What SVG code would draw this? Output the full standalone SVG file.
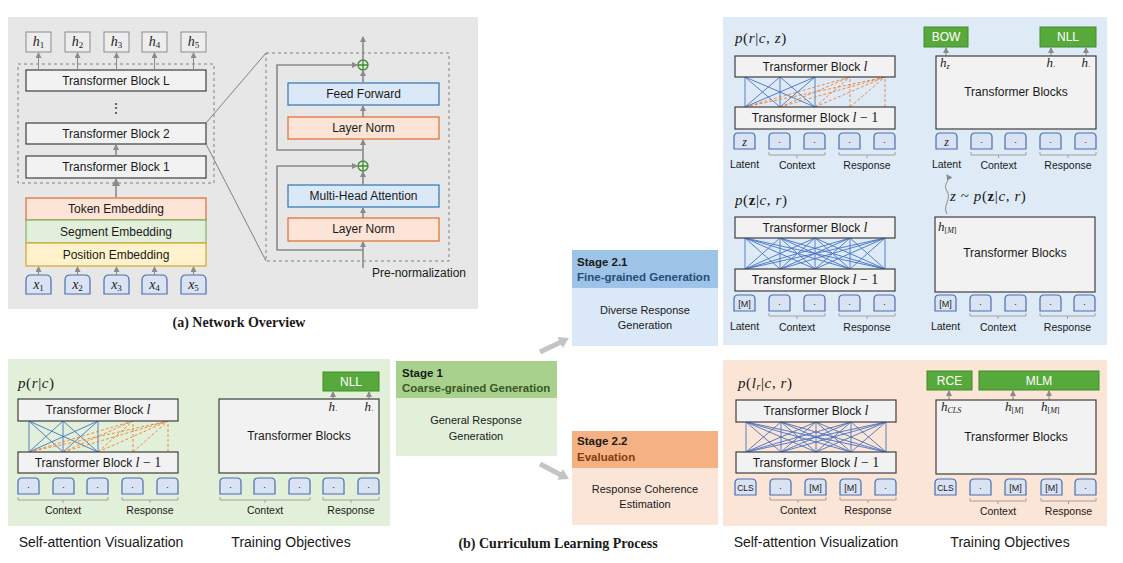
<svg xmlns="http://www.w3.org/2000/svg" width="1123" height="563" viewBox="0 0 1123 563">
<defs>
<style>
text{font-family:"Liberation Sans",Arial,sans-serif;fill:#1a1a1a}
.s12{font-size:12px}
.s11{font-size:11px}
.s10{font-size:10.5px}
.s14{font-size:14px}
.m{font-family:"Liberation Serif","Times New Roman",serif;font-style:italic}
.mr{font-family:"Liberation Serif","Times New Roman",serif;font-style:normal}
.pm{font-family:"Liberation Serif","Times New Roman",serif;font-style:italic;font-size:15px;letter-spacing:0.6px}
.cap{font-family:"Liberation Serif","Times New Roman",serif;font-weight:bold;font-size:14px}
.tb{fill:#F2F2F2;stroke:#3F3F3F;stroke-width:1.2}
.hb{fill:#EDEDED;stroke:#8C8C8C;stroke-width:1}
.tok{fill:#DAE3F3;stroke:#4A6FB0;stroke-width:1.2}
.obj{fill:#58A93C;stroke:#3F8B2A;stroke-width:1}
.objt{fill:#fff;font-size:12px}
.ar{stroke:#8A8A8A;stroke-width:1;fill:none}
.ar2{stroke:#8A8A8A;stroke-width:1.6;fill:none}
.br{stroke:#A0A0A0;stroke-width:1;fill:none}
.blue{stroke:#4472C4;stroke-width:0.9;fill:none}
.org{stroke:#ED7D31;stroke-width:0.9;fill:none;stroke-dasharray:3,2}
.dash{fill:none;stroke:#808080;stroke-width:1;stroke-dasharray:3,3}
.blk{fill:#DAE8F8;stroke:#2E75B6;stroke-width:1.2}
.ln{fill:#FCE4D6;stroke:#E06C2C;stroke-width:1.2}
.plus{fill:none;stroke:#3C8C2C;stroke-width:1.3}
.dot{font-size:9px}
</style>
<marker id="ah" markerWidth="6" markerHeight="6" refX="5" refY="3" orient="auto" markerUnits="userSpaceOnUse">
<path d="M0,0 L6,3 L0,6 z" fill="#8A8A8A"/>
</marker>
<marker id="ah2" markerWidth="8" markerHeight="8" refX="7" refY="4" orient="auto" markerUnits="userSpaceOnUse">
<path d="M0,0 L8,4 L0,8 z" fill="#8A8A8A"/>
</marker>
<path id="tk" d="M0,16 V4 Q0,0 4,0 H17 Q21,0 21,4 V16 Z"/>
<path id="tkx" d="M0,19 V5 Q0,0 5,0 H20 Q25,0 25,5 V19 Z"/>
</defs>

<!-- backgrounds -->
<rect x="8" y="17" width="470" height="292" fill="#E7E7E7"/>
<rect x="8" y="359" width="382" height="167" fill="#E2F0D9"/>
<rect x="723" y="17" width="384" height="328" fill="#DEEBF7"/>
<rect x="723" y="360" width="384" height="166" fill="#FBE5D6"/>

<!-- (a) Network overview -->
<g id="outputs">
<rect class="hb" x="26" y="32" width="25" height="20"/>
<rect class="hb" x="65" y="32" width="25" height="20"/>
<rect class="hb" x="104" y="32" width="25" height="20"/>
<rect class="hb" x="142" y="32" width="25" height="20"/>
<rect class="hb" x="181" y="32" width="25" height="20"/>
<text class="m" font-size="14" x="38.5" y="46" text-anchor="middle">h<tspan font-size="9" dy="2" class="mr">1</tspan></text>
<text class="m" font-size="14" x="77.5" y="46" text-anchor="middle">h<tspan font-size="9" dy="2" class="mr">2</tspan></text>
<text class="m" font-size="14" x="116.5" y="46" text-anchor="middle">h<tspan font-size="9" dy="2" class="mr">3</tspan></text>
<text class="m" font-size="14" x="154.5" y="46" text-anchor="middle">h<tspan font-size="9" dy="2" class="mr">4</tspan></text>
<text class="m" font-size="14" x="193.5" y="46" text-anchor="middle">h<tspan font-size="9" dy="2" class="mr">5</tspan></text>
</g>
<g id="stack">
<rect class="dash" x="18" y="64" width="196" height="119"/>
<rect class="tb" x="26" y="70" width="180" height="21"/>
<text class="s12" x="116" y="85" text-anchor="middle">Transformer Block L</text>
<text class="s12" x="116" y="112" text-anchor="middle">⋮</text>
<rect class="tb" x="26" y="123" width="180" height="21"/>
<text class="s12" x="116" y="138" text-anchor="middle">Transformer Block 2</text>
<rect class="tb" x="26" y="156" width="180" height="22"/>
<text class="s12" x="116" y="171" text-anchor="middle">Transformer Block 1</text>
</g>
<g id="embeddings">
<rect x="26" y="198" width="180" height="22" fill="#FCE4D6" stroke="#E06C2C" stroke-width="1.2"/>
<text class="s12" x="116" y="213" text-anchor="middle">Token Embedding</text>
<rect x="26" y="220" width="180" height="23" fill="#E2EFDA" stroke="#82B366" stroke-width="1.2"/>
<text class="s12" x="116" y="236" text-anchor="middle">Segment Embedding</text>
<rect x="26" y="243" width="180" height="23" fill="#FFF2CC" stroke="#D6A42E" stroke-width="1.2"/>
<text class="s12" x="116" y="259" text-anchor="middle">Position Embedding</text>
</g>
<g id="inputs">
<use href="#tkx" class="tok" x="26" y="275"/>
<use href="#tkx" class="tok" x="65" y="275"/>
<use href="#tkx" class="tok" x="104" y="275"/>
<use href="#tkx" class="tok" x="142" y="275"/>
<use href="#tkx" class="tok" x="181" y="275"/>
<text class="m" font-size="14" x="38.5" y="289" text-anchor="middle">x<tspan font-size="9" dy="2" class="mr">1</tspan></text>
<text class="m" font-size="14" x="77.5" y="289" text-anchor="middle">x<tspan font-size="9" dy="2" class="mr">2</tspan></text>
<text class="m" font-size="14" x="116.5" y="289" text-anchor="middle">x<tspan font-size="9" dy="2" class="mr">3</tspan></text>
<text class="m" font-size="14" x="154.5" y="289" text-anchor="middle">x<tspan font-size="9" dy="2" class="mr">4</tspan></text>
<text class="m" font-size="14" x="193.5" y="289" text-anchor="middle">x<tspan font-size="9" dy="2" class="mr">5</tspan></text>
</g>
<g id="block-detail">
<rect class="dash" x="266" y="53" width="183" height="208"/>
<rect class="blk" x="288" y="83" width="151" height="22"/>
<text class="s12" x="363.5" y="98" text-anchor="middle">Feed Forward</text>
<rect class="ln" x="288" y="117" width="151" height="22"/>
<text class="s12" x="363.5" y="132" text-anchor="middle">Layer Norm</text>
<rect class="blk" x="288" y="185" width="151" height="22"/>
<text class="s12" x="363.5" y="200" text-anchor="middle">Multi-Head Attention</text>
<rect class="ln" x="288" y="218" width="151" height="23"/>
<text class="s12" x="363.5" y="233" text-anchor="middle">Layer Norm</text>
<circle class="plus" cx="363" cy="65" r="5"/>
<path class="plus" d="M358,65 H368 M363,60 V70"/>
<circle class="plus" cx="363" cy="166" r="5"/>
<path class="plus" d="M358,166 H368 M363,161 V171"/>
<text class="s12" x="372" y="277">Pre-normalization</text>
</g>
<g id="connectors">
<path class="ar" marker-end="url(#ah)" d="M38.5,70 V53"/>
<path class="ar" marker-end="url(#ah)" d="M77.5,70 V53"/>
<path class="ar" marker-end="url(#ah)" d="M116.5,70 V53"/>
<path class="ar" marker-end="url(#ah)" d="M154.5,70 V53"/>
<path class="ar" marker-end="url(#ah)" d="M193.5,70 V53"/>
<path class="ar2" marker-end="url(#ah)" d="M116,156 V145"/>
<path class="ar2" marker-end="url(#ah2)" d="M116,197 V179"/>
<path class="ar" marker-end="url(#ah)" d="M38.5,275 V267"/>
<path class="ar" marker-end="url(#ah)" d="M77.5,275 V267"/>
<path class="ar" marker-end="url(#ah)" d="M116.5,275 V267"/>
<path class="ar" marker-end="url(#ah)" d="M154.5,275 V267"/>
<path class="ar" marker-end="url(#ah)" d="M193.5,275 V267"/>
<path d="M206,123 L266,53 M206,144 L266,261" stroke="#808080" stroke-width="1" fill="none"/>
<path class="ar2" marker-end="url(#ah)" d="M363,268 V242"/>
<path class="ar2" marker-end="url(#ah)" d="M363,218 V208"/>
<path class="ar2" marker-end="url(#ah)" d="M363,185 V172"/>
<path class="ar2" marker-end="url(#ah)" d="M363,161 V140"/>
<path class="ar2" marker-end="url(#ah)" d="M363,117 V106"/>
<path class="ar2" marker-end="url(#ah)" d="M363,83 V71"/>
<path class="ar2" marker-end="url(#ah)" d="M363,60 V37"/>
<path class="ar2" marker-end="url(#ah)" d="M363,250 H277 V166 H357"/>
<path class="ar2" marker-end="url(#ah)" d="M363,150 H277 V65 H357"/>
<path d="M540,352 L561,342" stroke="#C4C4C4" stroke-width="5" fill="none"/>
<polygon points="569,338 562.8,347.9 557.4,337.1" fill="#C4C4C4"/>
<path d="M540,464 L561,475" stroke="#C4C4C4" stroke-width="5" fill="none"/>
<polygon points="569,479 557.4,479.7 562.8,469.1" fill="#C4C4C4"/>
<path class="ar" marker-end="url(#ah)" d="M333,399 V392"/>
<path class="ar" marker-end="url(#ah)" d="M369,399 V392"/>
<path class="ar" marker-end="url(#ah)" d="M946,56 V48"/>
<path class="ar" marker-end="url(#ah)" d="M1051,56 V48"/>
<path class="ar" marker-end="url(#ah)" d="M1086,56 V48"/>
<path class="ar" marker-end="url(#ah)" d="M949,400 V391"/>
<path class="ar" marker-end="url(#ah)" d="M1013,400 V391"/>
<path class="ar" marker-end="url(#ah)" d="M1049,400 V391"/>
<path class="ar" marker-end="url(#ah)" d="M947,214 C942,206 952,199 947,191 C942,184 951,181 947,175"/>
<path class="blue" d="M29,452L29,421M29,452L63,421M29,452L98,421M63,452L29,421M63,452L63,421M63,452L98,421M98,452L29,421M98,452L63,421M98,452L98,421"/>
<path class="org" d="M29,452L133,421M63,452L133,421M98,452L133,421M133,452L133,421M29,452L168,421M63,452L168,421M98,452L168,421M133,452L168,421M168,452L168,421"/>
<path class="blue" d="M745,107L745,77M745,107L780,77M745,107L815,77M780,107L745,77M780,107L780,77M780,107L815,77M815,107L745,77M815,107L780,77M815,107L815,77"/>
<path class="org" d="M745,107L850,77M780,107L850,77M815,107L850,77M850,107L850,77M745,107L885,77M780,107L885,77M815,107L885,77M850,107L885,77M885,107L885,77"/>
<path class="blue" d="M745,269L745,238M745,269L780,238M745,269L815,238M745,269L850,238M745,269L885,238M780,269L745,238M780,269L780,238M780,269L815,238M780,269L850,238M780,269L885,238M815,269L745,238M815,269L780,238M815,269L815,238M815,269L850,238M815,269L885,238M850,269L745,238M850,269L780,238M850,269L815,238M850,269L850,238M850,269L885,238M885,269L745,238M885,269L780,238M885,269L815,238M885,269L850,238M885,269L885,238"/>
<path class="blue" d="M746,452L746,422M746,452L781,422M746,452L816,422M746,452L851,422M746,452L886,422M781,452L746,422M781,452L781,422M781,452L816,422M781,452L851,422M781,452L886,422M816,452L746,422M816,452L781,422M816,452L816,422M816,452L851,422M816,452L886,422M851,452L746,422M851,452L781,422M851,452L816,422M851,452L851,422M851,452L886,422M886,452L746,422M886,452L781,422M886,452L816,422M886,452L851,422M886,452L886,422"/>
<path class="br" d="M18,497V500H108V497M63,500V503 M122,497V500H178V497M150,500V503"/>
<path class="br" d="M220,497V500H310V497M265,500V503 M323,497V500H379V497M351,500V503"/>
<path class="br" d="M769,152V155H825V152M797,155V158 M839,152V155H895V152M867,155V158"/>
<path class="br" d="M971,152V155H1026V152M998.5,155V158 M1040,152V155H1096V152M1068,155V158"/>
<path class="br" d="M769,313V316H825V313M797,316V319 M839,313V316H895V313M867,316V319"/>
<path class="br" d="M970,313V316H1026V313M998,316V319 M1040,313V316H1095V313M1067.5,316V319"/>
<path class="br" d="M770,497V500H826V497M798,500V503 M840,497V500H896V497M868,500V503"/>
<path class="br" d="M970,498V501H1026V498M998,501V504 M1041,498V501H1096V498M1068.5,501V504"/>
</g>
<text class="cap" x="239" y="327" text-anchor="middle">(a) Network Overview</text>

<!-- Stage 1 panel -->
<g id="s1-attn">
<text class="pm" x="18" y="388">p<tspan class="mr">(</tspan>r<tspan class="mr">|</tspan>c<tspan class="mr">)</tspan></text>
<rect class="tb" x="18" y="399" width="160" height="22"/>
<text class="s12" x="98" y="414" text-anchor="middle">Transformer Block <tspan class="m" font-size="14">l</tspan></text>
<rect class="tb" x="18" y="452" width="160" height="21"/>
<text class="s12" x="98" y="467" text-anchor="middle">Transformer Block <tspan class="m" font-size="14">l</tspan><tspan class="mr" font-size="14"> − 1</tspan></text>
<use href="#tk" class="tok" x="18" y="478"/><use href="#tk" class="tok" x="53" y="478"/><use href="#tk" class="tok" x="87" y="478"/><use href="#tk" class="tok" x="122" y="478"/><use href="#tk" class="tok" x="157" y="478"/>
<text class="dot" x="28.5" y="490" text-anchor="middle">·</text><text class="dot" x="63.5" y="490" text-anchor="middle">·</text><text class="dot" x="97.5" y="490" text-anchor="middle">·</text><text class="dot" x="132.5" y="490" text-anchor="middle">·</text><text class="dot" x="167.5" y="490" text-anchor="middle">·</text>
<text class="s10" x="63" y="514" text-anchor="middle">Context</text>
<text class="s10" x="150" y="514" text-anchor="middle">Response</text>
</g>
<g id="s1-obj">
<rect class="obj" x="323" y="372" width="56" height="19"/>
<text class="objt" x="351" y="386" text-anchor="middle">NLL</text>
<rect class="tb" x="219" y="399" width="160" height="74"/>
<text class="s12" x="299" y="440" text-anchor="middle">Transformer Blocks</text>
<text class="m" font-size="13" x="333" y="411" text-anchor="middle">h<tspan class="mr" font-size="8" dy="2">·</tspan></text>
<text class="m" font-size="13" x="369" y="411" text-anchor="middle">h<tspan class="mr" font-size="8" dy="2">·</tspan></text>
<use href="#tk" class="tok" x="220" y="478"/><use href="#tk" class="tok" x="254" y="478"/><use href="#tk" class="tok" x="289" y="478"/><use href="#tk" class="tok" x="323" y="478"/><use href="#tk" class="tok" x="358" y="478"/>
<text class="dot" x="230.5" y="490" text-anchor="middle">·</text><text class="dot" x="264.5" y="490" text-anchor="middle">·</text><text class="dot" x="299.5" y="490" text-anchor="middle">·</text><text class="dot" x="333.5" y="490" text-anchor="middle">·</text><text class="dot" x="368.5" y="490" text-anchor="middle">·</text>
<text class="s10" x="265" y="514" text-anchor="middle">Context</text>
<text class="s10" x="351" y="514" text-anchor="middle">Response</text>
</g>
<text class="s14" x="101" y="547" text-anchor="middle">Self-attention Visualization</text>
<text class="s14" x="291" y="547" text-anchor="middle">Training Objectives</text>

<!-- stage boxes -->
<g id="stage1">
<rect x="396" y="361" width="161" height="37" fill="#A9D18E"/>
<rect x="396" y="398" width="161" height="58" fill="#E2F0D9"/>
<text x="402" y="377" font-size="11.5" font-weight="bold" fill="#111">Stage 1</text>
<text x="402" y="392" font-size="11.5" font-weight="bold" style="fill:#385723">Coarse-grained Generation</text>
<text class="s11" x="476" y="424" text-anchor="middle">General Response</text>
<text class="s11" x="476" y="440" text-anchor="middle">Generation</text>
</g>
<g id="stage21">
<rect x="572" y="250" width="146" height="38" fill="#9DC3E6"/>
<rect x="572" y="288" width="146" height="58" fill="#DAE8F7"/>
<text x="577" y="266" font-size="11.5" font-weight="bold" fill="#111">Stage 2.1</text>
<text x="577" y="281" font-size="11.5" font-weight="bold" style="fill:#1F4E79">Fine-grained Generation</text>
<text class="s11" x="645" y="314" text-anchor="middle">Diverse Response</text>
<text class="s11" x="645" y="329" text-anchor="middle">Generation</text>
</g>
<g id="stage22">
<rect x="572" y="431" width="146" height="37" fill="#F4B183"/>
<rect x="572" y="468" width="146" height="57" fill="#FBE5D6"/>
<text x="577" y="445" font-size="11.5" font-weight="bold" fill="#111">Stage 2.2</text>
<text x="577" y="461" font-size="11.5" font-weight="bold" style="fill:#843C0C">Evaluation</text>
<text class="s11" x="645" y="493" text-anchor="middle">Response Coherence</text>
<text class="s11" x="645" y="508" text-anchor="middle">Estimation</text>
</g>
<text class="cap" x="558" y="548" text-anchor="middle">(b) Curriculum Learning Process</text>

<!-- Stage 2.1 row 1 -->
<g id="s21-attn1">
<text class="pm" x="735" y="43">p<tspan class="mr">(</tspan>r<tspan class="mr">|</tspan>c<tspan class="mr">, </tspan>z<tspan class="mr">)</tspan></text>
<rect class="tb" x="735" y="56" width="160" height="21"/>
<text class="s12" x="815" y="71" text-anchor="middle">Transformer Block <tspan class="m" font-size="14">l</tspan></text>
<rect class="tb" x="735" y="107" width="160" height="22"/>
<text class="s12" x="815" y="122" text-anchor="middle">Transformer Block <tspan class="m" font-size="14">l</tspan><tspan class="mr" font-size="14"> − 1</tspan></text>
<use href="#tk" class="tok" x="734" y="133"/><use href="#tk" class="tok" x="769" y="133"/><use href="#tk" class="tok" x="804" y="133"/><use href="#tk" class="tok" x="839" y="133"/><use href="#tk" class="tok" x="874" y="133"/>
<text class="m" font-size="12" x="744.5" y="146" text-anchor="middle">z</text><text class="dot" x="779.5" y="145" text-anchor="middle">·</text><text class="dot" x="814.5" y="145" text-anchor="middle">·</text><text class="dot" x="849.5" y="145" text-anchor="middle">·</text><text class="dot" x="884.5" y="145" text-anchor="middle">·</text>
<text class="s10" x="744.5" y="168" text-anchor="middle">Latent</text>
<text class="s10" x="797" y="169" text-anchor="middle">Context</text>
<text class="s10" x="867" y="169" text-anchor="middle">Response</text>
</g>
<g id="s21-obj1">
<rect class="obj" x="924" y="27" width="44" height="20"/>
<text class="objt" x="946" y="41" text-anchor="middle">BOW</text>
<rect class="obj" x="1040" y="27" width="56" height="20"/>
<text class="objt" x="1068" y="41" text-anchor="middle">NLL</text>
<rect class="tb" x="936" y="56" width="160" height="73"/>
<text class="s12" x="1016" y="96" text-anchor="middle">Transformer Blocks</text>
<text class="m" font-size="13" x="940" y="67">h<tspan font-size="8" dy="2">z</tspan></text>
<text class="m" font-size="13" x="1051" y="67" text-anchor="middle">h<tspan class="mr" font-size="8" dy="2">·</tspan></text>
<text class="m" font-size="13" x="1086" y="67" text-anchor="middle">h<tspan class="mr" font-size="8" dy="2">·</tspan></text>
<use href="#tk" class="tok" x="936" y="133"/><use href="#tk" class="tok" x="971" y="133"/><use href="#tk" class="tok" x="1005" y="133"/><use href="#tk" class="tok" x="1040" y="133"/><use href="#tk" class="tok" x="1075" y="133"/>
<text class="m" font-size="12" x="946.5" y="146" text-anchor="middle">z</text><text class="dot" x="981.5" y="145" text-anchor="middle">·</text><text class="dot" x="1015.5" y="145" text-anchor="middle">·</text><text class="dot" x="1050.5" y="145" text-anchor="middle">·</text><text class="dot" x="1085.5" y="145" text-anchor="middle">·</text>
<text class="s10" x="946.5" y="168" text-anchor="middle">Latent</text>
<text class="s10" x="998.5" y="169" text-anchor="middle">Context</text>
<text class="s10" x="1068" y="169" text-anchor="middle">Response</text>
</g>
<text class="pm" x="950" y="201">z<tspan class="mr"> ~ </tspan>p<tspan class="mr">(</tspan><tspan class="mr" font-weight="bold">z</tspan><tspan class="mr">|</tspan>c<tspan class="mr">, </tspan>r<tspan class="mr">)</tspan></text>

<!-- Stage 2.1 row 2 -->
<g id="s21-attn2">
<text class="pm" x="735" y="205">p<tspan class="mr">(</tspan><tspan class="mr" font-weight="bold">z</tspan><tspan class="mr">|</tspan>c<tspan class="mr">, </tspan>r<tspan class="mr">)</tspan></text>
<rect class="tb" x="735" y="217" width="160" height="21"/>
<text class="s12" x="815" y="232" text-anchor="middle">Transformer Block <tspan class="m" font-size="14">l</tspan></text>
<rect class="tb" x="735" y="269" width="160" height="22"/>
<text class="s12" x="815" y="284" text-anchor="middle">Transformer Block <tspan class="m" font-size="14">l</tspan><tspan class="mr" font-size="14"> − 1</tspan></text>
<use href="#tk" class="tok" x="734" y="295"/><use href="#tk" class="tok" x="769" y="295"/><use href="#tk" class="tok" x="804" y="295"/><use href="#tk" class="tok" x="839" y="295"/><use href="#tk" class="tok" x="874" y="295"/>
<text font-size="9" x="744.5" y="307" text-anchor="middle">[M]</text><text class="dot" x="779.5" y="307" text-anchor="middle">·</text><text class="dot" x="814.5" y="307" text-anchor="middle">·</text><text class="dot" x="849.5" y="307" text-anchor="middle">·</text><text class="dot" x="884.5" y="307" text-anchor="middle">·</text>
<text class="s10" x="744.5" y="330" text-anchor="middle">Latent</text>
<text class="s10" x="797" y="331" text-anchor="middle">Context</text>
<text class="s10" x="867" y="331" text-anchor="middle">Response</text>
</g>
<g id="s21-obj2">
<rect class="tb" x="935" y="217" width="160" height="75"/>
<text class="s12" x="1015" y="257" text-anchor="middle">Transformer Blocks</text>
<text class="m" font-size="13" x="938" y="231">h<tspan font-size="8" dy="2"><tspan class="mr">[</tspan>M<tspan class="mr">]</tspan></tspan></text>
<use href="#tk" class="tok" x="935" y="295"/><use href="#tk" class="tok" x="970" y="295"/><use href="#tk" class="tok" x="1005" y="295"/><use href="#tk" class="tok" x="1040" y="295"/><use href="#tk" class="tok" x="1074" y="295"/>
<text font-size="9" x="945.5" y="307" text-anchor="middle">[M]</text><text class="dot" x="980.5" y="307" text-anchor="middle">·</text><text class="dot" x="1015.5" y="307" text-anchor="middle">·</text><text class="dot" x="1050.5" y="307" text-anchor="middle">·</text><text class="dot" x="1084.5" y="307" text-anchor="middle">·</text>
<text class="s10" x="945.5" y="330" text-anchor="middle">Latent</text>
<text class="s10" x="998" y="331" text-anchor="middle">Context</text>
<text class="s10" x="1067.5" y="331" text-anchor="middle">Response</text>
</g>

<!-- Stage 2.2 -->
<g id="s22-attn">
<text class="pm" x="738" y="388">p<tspan class="mr">(</tspan>l<tspan font-size="10" dy="2">r</tspan><tspan class="mr" dy="-2">|</tspan>c<tspan class="mr">, </tspan>r<tspan class="mr">)</tspan></text>
<rect class="tb" x="736" y="400" width="160" height="22"/>
<text class="s12" x="816" y="415" text-anchor="middle">Transformer Block <tspan class="m" font-size="14">l</tspan></text>
<rect class="tb" x="736" y="452" width="160" height="21"/>
<text class="s12" x="816" y="467" text-anchor="middle">Transformer Block <tspan class="m" font-size="14">l</tspan><tspan class="mr" font-size="14"> − 1</tspan></text>
<use href="#tk" class="tok" x="735" y="479"/><use href="#tk" class="tok" x="770" y="479"/><use href="#tk" class="tok" x="805" y="479"/><use href="#tk" class="tok" x="840" y="479"/><use href="#tk" class="tok" x="875" y="479"/>
<text font-size="8.5" x="745.5" y="491" text-anchor="middle">CLS</text><text class="dot" x="780.5" y="491" text-anchor="middle">·</text><text font-size="9" x="815.5" y="491" text-anchor="middle">[M]</text><text font-size="9" x="850.5" y="491" text-anchor="middle">[M]</text><text class="dot" x="885.5" y="491" text-anchor="middle">·</text>
<text class="s10" x="798" y="514" text-anchor="middle">Context</text>
<text class="s10" x="868" y="514" text-anchor="middle">Response</text>
</g>
<g id="s22-obj">
<rect class="obj" x="927" y="371" width="45" height="19"/>
<text class="objt" x="949.5" y="385" text-anchor="middle">RCE</text>
<rect class="obj" x="979" y="371" width="120" height="19"/>
<text class="objt" x="1039" y="385" text-anchor="middle">MLM</text>
<rect class="tb" x="936" y="400" width="160" height="74"/>
<text class="s12" x="1016" y="441" text-anchor="middle">Transformer Blocks</text>
<text class="m" font-size="13" x="941" y="411">h<tspan font-size="8" dy="2">CLS</tspan></text>
<text class="m" font-size="13" x="1005" y="411">h<tspan font-size="8" dy="2"><tspan class="mr">[</tspan>M<tspan class="mr">]</tspan></tspan></text>
<text class="m" font-size="13" x="1041" y="411">h<tspan font-size="8" dy="2"><tspan class="mr">[</tspan>M<tspan class="mr">]</tspan></tspan></text>
<use href="#tk" class="tok" x="935" y="479"/><use href="#tk" class="tok" x="970" y="479"/><use href="#tk" class="tok" x="1005" y="479"/><use href="#tk" class="tok" x="1041" y="479"/><use href="#tk" class="tok" x="1075" y="479"/>
<text font-size="8.5" x="945.5" y="491" text-anchor="middle">CLS</text><text class="dot" x="980.5" y="491" text-anchor="middle">·</text><text font-size="9" x="1015.5" y="491" text-anchor="middle">[M]</text><text font-size="9" x="1051.5" y="491" text-anchor="middle">[M]</text><text class="dot" x="1085.5" y="491" text-anchor="middle">·</text>
<text class="s10" x="998" y="515" text-anchor="middle">Context</text>
<text class="s10" x="1068.5" y="515" text-anchor="middle">Response</text>
</g>
<text class="s14" x="816" y="547" text-anchor="middle">Self-attention Visualization</text>
<text class="s14" x="1010" y="547" text-anchor="middle">Training Objectives</text>
</svg>
